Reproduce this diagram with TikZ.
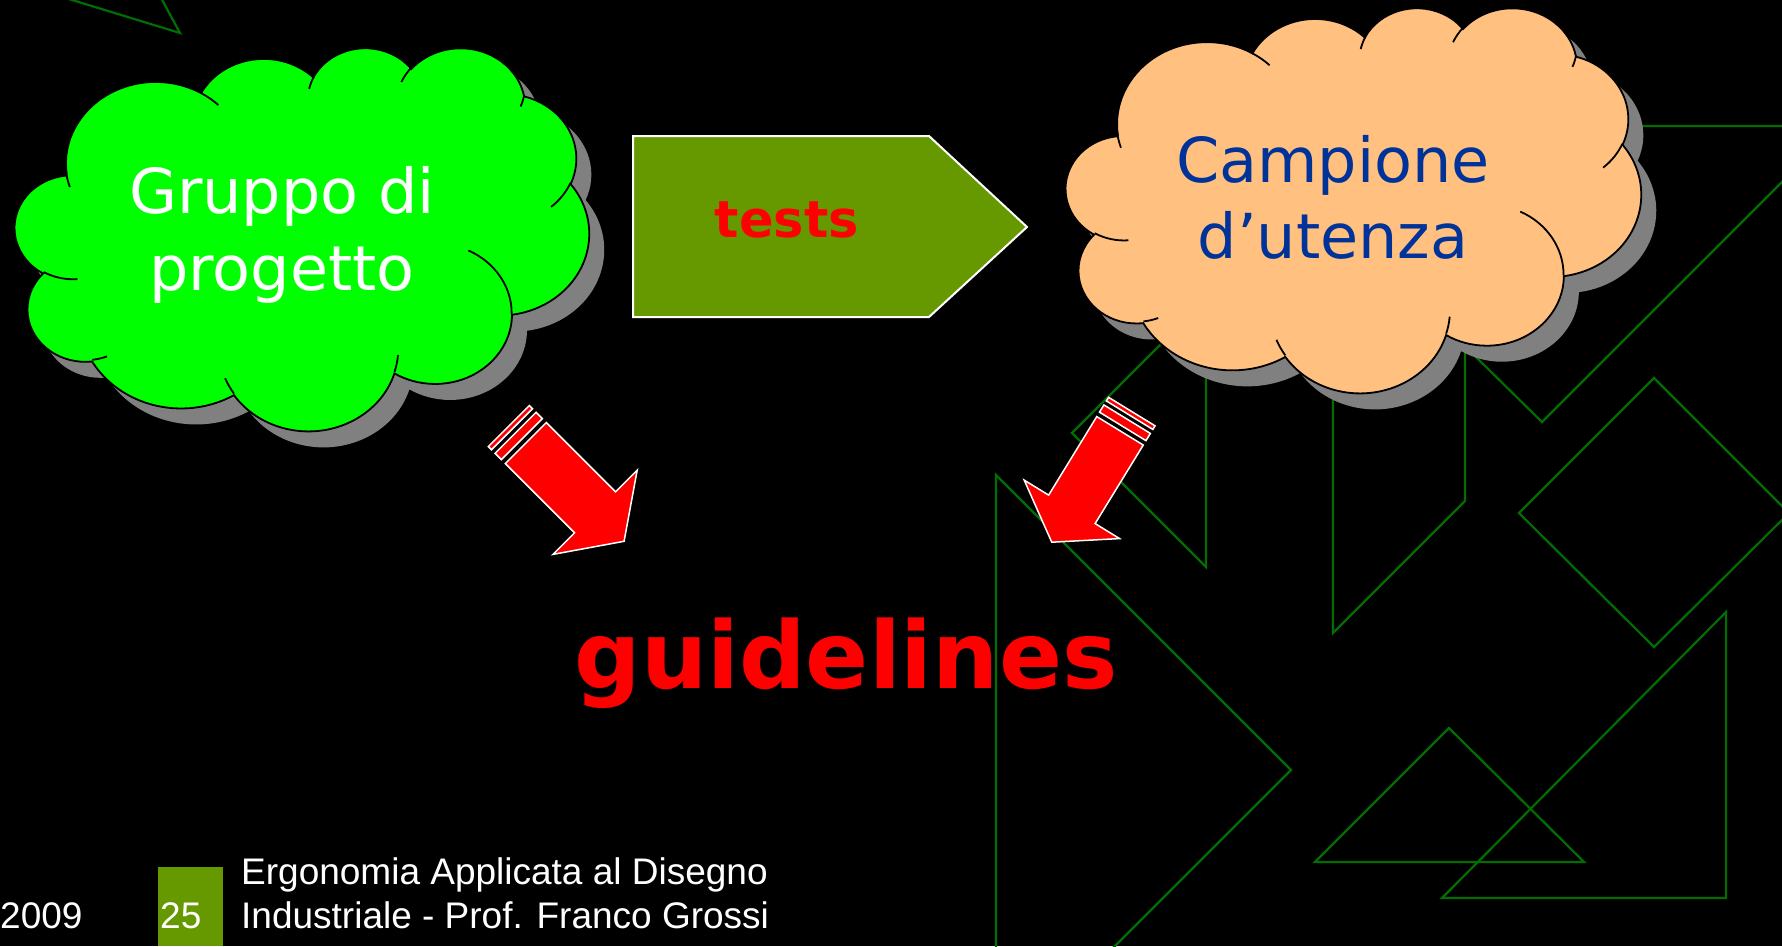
\documentclass[tikz,border=0pt]{standalone}
\usepackage{fontspec}
\setmainfont{Liberation Sans}
\newfontfamily\cloudfont{DejaVu Sans}

\definecolor{slidegreen}{RGB}{0,110,0}
\definecolor{boxgreen}{RGB}{102,153,0}
\definecolor{peach}{RGB}{255,192,128}
\definecolor{textblue}{RGB}{0,51,153}
\definecolor{shadowgray}{RGB}{128,128,128}

\newcommand\cloudarc[4]{arc[x radius=#1, y radius=#2,
  start angle={atan2(#1*sin(#3),#2*cos(#3))},
  delta angle={mod(atan2(#1*sin(#3+#4),#2*cos(#3+#4))-atan2(#1*sin(#3),#2*cos(#3))+720,360)}]}

\newcommand\cloudoutline{(39.00,143.70)
  \cloudarc{67.53}{91.90}{-190.48748}{123.78053}
  \cloudarc{53.33}{72.67}{-144.10238}{89.94523}
  \cloudarc{43.65}{59.45}{-145.80792}{99.72302}
  \cloudarc{48.57}{65.95}{-130.98607}{117.24173}
  \cloudarc{53.33}{72.73}{-78.70888}{109.02692}
  \cloudarc{67.75}{92.20}{-46.26725}{130.26900}
  \cloudarc{57.85}{78.67}{0.62502}{114.03333}
  \cloudarc{67.52}{92.15}{22.45160}{115.17255}
  \cloudarc{77.20}{105.43}{66.24263}{75.71102}
  \cloudarc{43.60}{59.18}{-274.94208}{146.73557}
  \cloudarc{43.45}{59.45}{-246.82850}{152.51885}
  -- cycle}

\newcommand\cloudcreases{(46.93,261.77) \cloudarc{43.45}{59.45}{86.742}{26.4295}
  (69.28,348.99) \cloudarc{43.60}{59.18}{73.61047}{11.44747}
  (164.78,390.90) \cloudarc{67.52}{92.15}{137.62415}{14.0811}
  (288.27,347.51) \cloudarc{67.52}{92.15}{6.45327}{15.99835}
  (341.29,229.54) \cloudarc{57.85}{78.67}{-70.29235}{70.91737}
  (417.98,153.54) \cloudarc{53.33}{72.73}{30.31803}{27.7515}
  (383.24,54.26) \cloudarc{48.57}{65.95}{13.74433}{14.8589}
  (290.78,39.52) \cloudarc{48.57}{65.95}{-149.18145}{18.19537}
  (221.41,47.20) \cloudarc{43.65}{59.45}{-163.49427}{17.68635}
  (140.00,51.92) \cloudarc{67.53}{91.90}{-66.70695}{12.31935}
  (41.27,157.89) \cloudarc{67.53}{91.90}{155.6472}{31.2432}}

\begin{document}
\begin{tikzpicture}[x=1pt, y=1pt, yscale=-1,
  bgline/.style={draw=slidegreen, line width=2.2},
  cloudshade/.style={fill=shadowgray},
  cloudedge/.style={draw=black, line width=1.8},
  cloudtext/.style={font=\cloudfont\fontsize{62}{74}\selectfont, anchor=base, inner sep=0},
  tag/.style={fill=boxgreen, draw=white, line width=2},
  redword/.style={text=red, anchor=base, inner sep=0},
  footer/.style={text=white, font=\fontsize{37}{44}\selectfont, inner sep=0},
  pics/stripedarrow/.style={code={
    \filldraw[fill=red, draw=white, line width=1.5] (0,-29) -- (98,-29) -- (98,-59.5) -- (139,0)
      -- (98,59.5) -- (98,29) -- (0,29) -- cycle;
    \filldraw[fill=red, draw=white, line width=1.5] (-14.5,-29) rectangle (-5.5,29);
    \filldraw[fill=red, draw=white, line width=1.5] (-24,-29) rectangle (-19.5,29);
  }}]
  \useasboundingbox (0,0) rectangle (1782,946);
  \clip (0,0) rectangle (1782,946);
  \fill[black] (0,0) rectangle (1782,946);

  \draw[bgline] (-26,-30) -- (180,33) -- (146,-30);
  \draw[bgline] (1241,126) -- (1838,126) -- (1542,422) -- cycle;
  \draw[bgline] (1333,250) -- (1333,633) -- (1465,501) -- (1465,250);
  \draw[bgline] (1206,299) -- (1072,433) -- (1206,567) -- cycle;
  \draw[bgline] (996,475) -- (1291,770) -- (996,1065) -- cycle;
  \draw[bgline] (1654,378) -- (1519,513) -- (1654,647) -- (1789,513) -- cycle;
  \draw[bgline] (1449,728) -- (1315,862) -- (1584,862) -- cycle;
  \draw[bgline] (1726,612) -- (1726,898) -- (1442,898) -- cycle;

  \begin{scope}[shift={(30,63)}, xscale=574/432, yscale=383/432]
    \fill[cloudshade] \cloudoutline;
  \end{scope}
  \begin{scope}[shift={(15,47)}, xscale=574/432, yscale=383/432]
    \filldraw[fill=green, cloudedge] \cloudoutline;
    \draw[cloudedge] \cloudcreases;
  \end{scope}
  \begin{scope}[shift={(1081,23)}, xscale=575/432, yscale=385/432]
    \fill[cloudshade] \cloudoutline;
  \end{scope}
  \begin{scope}[shift={(1066,7)}, xscale=575/432, yscale=385/432]
    \filldraw[fill=peach, cloudedge] \cloudoutline;
    \draw[cloudedge] \cloudcreases;
  \end{scope}

  \node[cloudtext, text=white] (gruppo) at (282,213) {Gruppo di};
  \node[cloudtext, text=white] (progetto) at (282,290) {progetto};
  \node[cloudtext, text=textblue] (campione) at (1333,182) {Campione};
  \node[cloudtext, text=textblue] (utenza) at (1333,258) {d’utenza};

  \draw[tag] (633,136) -- (929,136) -- (1027,227) -- (929,317) -- (633,317) -- cycle;
  \node[redword, font=\cloudfont\bfseries\fontsize{51}{60}\selectfont] (tests) at (787,237) {tests};

  \pic[rotate=-45] at (525.8,443) {stripedarrow};
  \pic[rotate=-121.5, scale=0.94] at (1120,430.8) {stripedarrow};

  \node[redword, font=\cloudfont\bfseries\fontsize{93}{110}\selectfont] (guidelines) at (846,688) {guidelines};

  \fill[boxgreen] (158,867) rectangle (223,946);
  \node[footer, anchor=base west] (year) at (0,928) {2009};
  \node[footer, anchor=base west] (pagenum) at (160,928) {25};
  \node[footer, anchor=base west] (course1) at (241,884) {Ergonomia Applicata al Disegno};
  \node[footer, anchor=base west] (course2) at (241,928) {Industriale - Prof. Franco Grossi};
\end{tikzpicture}
\end{document}
